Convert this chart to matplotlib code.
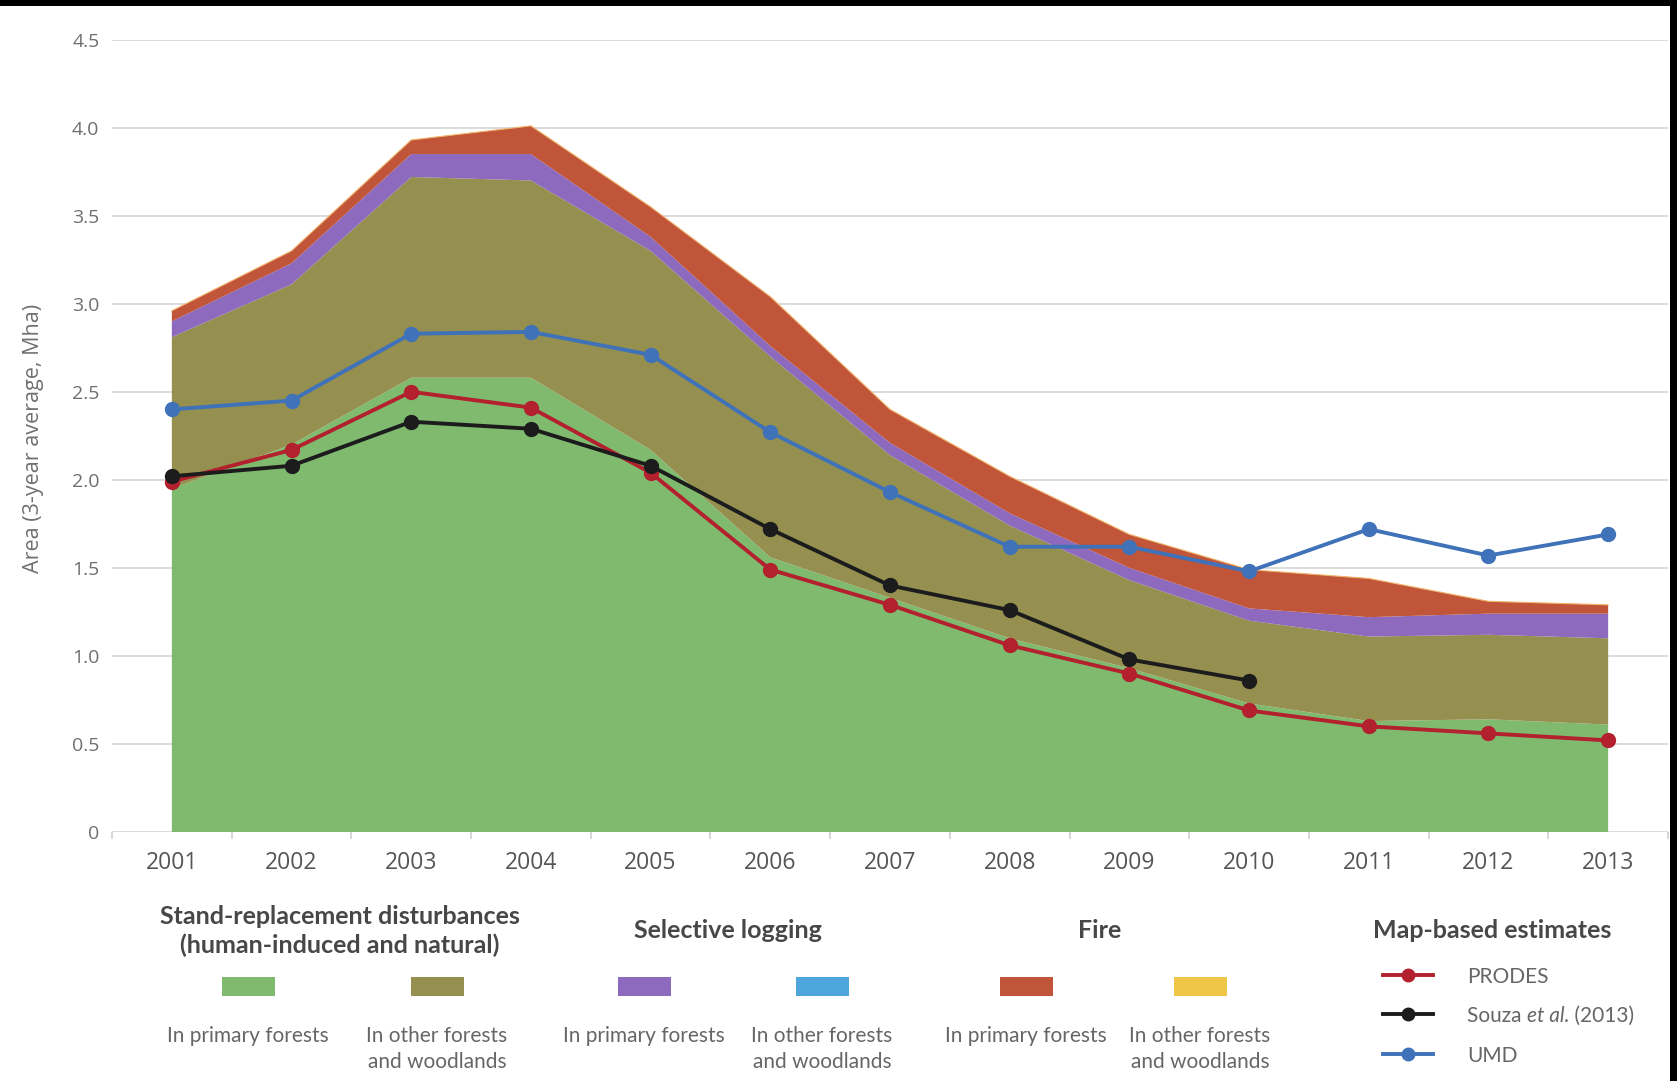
import matplotlib
matplotlib.use("Agg")
import matplotlib.pyplot as plt
from matplotlib import font_manager
from matplotlib.patches import Rectangle
from matplotlib.lines import Line2D

# ---------------------------------------------------------------- data
years = [2001, 2002, 2003, 2004, 2005, 2006, 2007, 2008, 2009, 2010, 2011, 2012, 2013]

# stacked disturbance components (Mha, 3-year average)
sr_primary = [1.95, 2.20, 2.58, 2.58, 2.17, 1.56, 1.33, 1.10, 0.93, 0.73, 0.63, 0.64, 0.61]
sr_other = [0.86, 0.91, 1.14, 1.12, 1.13, 1.14, 0.81, 0.64, 0.50, 0.47, 0.48, 0.48, 0.49]
sl_primary = [0.09, 0.12, 0.13, 0.15, 0.08, 0.06, 0.07, 0.07, 0.07, 0.07, 0.11, 0.12, 0.14]
sl_other = [0.0] * 13
fire_primary = [0.06, 0.07, 0.08, 0.16, 0.17, 0.28, 0.19, 0.21, 0.19, 0.22, 0.22, 0.07, 0.05]
fire_other = [0.0] * 13

# map-based estimates
prodes = [1.99, 2.17, 2.50, 2.41, 2.04, 1.49, 1.29, 1.06, 0.90, 0.69, 0.60, 0.56, 0.52]
souza_years = [2001, 2002, 2003, 2004, 2005, 2006, 2007, 2008, 2009, 2010]
souza = [2.02, 2.08, 2.33, 2.29, 2.08, 1.72, 1.40, 1.26, 0.98, 0.86]
umd = [2.40, 2.45, 2.83, 2.84, 2.71, 2.27, 1.93, 1.62, 1.62, 1.48, 1.72, 1.57, 1.69]

y_ticks = [0, 0.5, 1.0, 1.5, 2.0, 2.5, 3.0, 3.5, 4.0, 4.5]
y_tick_labels = ["0", "0.5", "1.0", "1.5", "2.0", "2.5", "3.0", "3.5", "4.0", "4.5"]
y_label = "Area (3-year average, Mha)"

group_titles = ["Stand-replacement disturbances\n(human-induced and natural)",
                "Selective logging", "Fire", "Map-based estimates"]
swatch_labels = ["In primary forests", "In other forests\nand woodlands",
                 "In primary forests", "In other forests\nand woodlands",
                 "In primary forests", "In other forests\nand woodlands"]

# ---------------------------------------------------------------- style
C_GREEN = "#7fba6f"
C_OLIVE = "#958f50"
C_PURPLE = "#8d6abd"
C_BLUE = "#4fa6dd"
C_RED = "#c0553a"
C_YELLOW = "#f0c648"
C_PRODES = "#b3202e"
C_SOUZA = "#1c1c1c"
C_UMD = "#3f72b8"

available = {f.name for f in font_manager.fontManager.ttflist}
NARROW = next((n for n in ["Liberation Sans Narrow", "Lato", "Open Sans"] if n in available), "DejaVu Sans")
TICKF = "Open Sans" if "Open Sans" in available else "DejaVu Sans"

W, H = 1677, 1081
fig = plt.figure(figsize=(W / 100, H / 100), dpi=100)
fig.patch.set_facecolor("white")


def fx(px):
    return px / W


def fy(py):
    return 1 - py / H


ax_left, ax_right, ax_top, ax_bottom = 112, 1668, 39.6, 832
ax = fig.add_axes([fx(ax_left), fy(ax_bottom), fx(ax_right - ax_left), (ax_bottom - ax_top) / H])

ax.stackplot(years, sr_primary, sr_other, sl_primary, sl_other, fire_primary, fire_other,
             colors=[C_GREEN, C_OLIVE, C_PURPLE, C_BLUE, C_RED, C_YELLOW],
             linewidth=0, zorder=2)

totals = [sum(v) for v in zip(sr_primary, sr_other, sl_primary, sl_other, fire_primary, fire_other)]
ax.plot(years, totals, color="#f2b36a", lw=0.8, zorder=2.5)

line_kw = dict(lw=2.8, marker="o", markersize=10, zorder=4)
ax.plot(years, prodes, color=C_PRODES, **line_kw)
ax.plot(souza_years, souza, color=C_SOUZA, **line_kw)
ax.plot(years, umd, color=C_UMD, **line_kw)

ax.set_xlim(2000.5, 2013.5)
ax.set_ylim(0, 4.5)
ax.set_yticks(y_ticks)
ax.set_yticklabels(y_tick_labels, fontfamily=TICKF, fontsize=14, color="#6f6f6f")
ax.set_xticks(years)
ax.set_xticklabels([str(y) for y in years], fontfamily=TICKF, fontsize=16.5, color="#555555")
ax.set_xticks([y + 0.5 for y in [2000] + years], minor=True)
ax.tick_params(axis="y", length=0, pad=9)
ax.tick_params(axis="x", which="major", length=0, pad=14)
ax.tick_params(axis="x", which="minor", length=5, color="#d0d0d0", width=1.2)
ax.yaxis.grid(True, color="#dcdcdc", lw=1.4, zorder=0)
ax.set_axisbelow(True)
for s in ax.spines.values():
    s.set_visible(False)

fig.text(fx(34), fy(438), y_label, rotation=90, ha="center", va="center",
         fontfamily=TICKF, fontsize=15.5, color="#707070")

# ---------------------------------------------------------------- legend block
head_kw = dict(ha="center", va="center", fontfamily=NARROW, fontweight="bold",
               fontsize=18, color="#474747", linespacing=1.25)
fig.text(fx(340), fy(931), group_titles[0], **head_kw)
fig.text(fx(728), fy(930), group_titles[1], **head_kw)
fig.text(fx(1100), fy(930), group_titles[2], **head_kw)
fig.text(fx(1492), fy(930), group_titles[3], **head_kw)

swatch_x = [248, 437, 644, 822, 1026, 1200]
swatch_colors = [C_GREEN, C_OLIVE, C_PURPLE, C_BLUE, C_RED, C_YELLOW]
sw_w, sw_h = 53, 19
for cx, col, lab in zip(swatch_x, swatch_colors, swatch_labels):
    fig.add_artist(Rectangle((fx(cx - sw_w / 2), fy(986 + sw_h / 2)), fx(sw_w), sw_h / H,
                             transform=fig.transFigure, facecolor=col, edgecolor="none"))
    fig.text(fx(cx), fy(1026), lab, ha="center", va="top", fontfamily=NARROW,
             fontsize=15, color="#666666", linespacing=1.35)

legend_rows = [(975, C_PRODES), (1014, C_SOUZA), (1054, C_UMD)]
for yy, col in legend_rows:
    fig.add_artist(Line2D([fx(1383), fx(1433)], [fy(yy), fy(yy)], transform=fig.transFigure,
                          color=col, lw=2.8))
    fig.add_artist(Line2D([fx(1408)], [fy(yy)], transform=fig.transFigure, color=col,
                          marker="o", markersize=9, lw=0))

lab_kw = dict(ha="left", va="center", fontfamily=NARROW, fontsize=15, color="#666666")
fig.text(fx(1467), fy(977), "PRODES", **lab_kw)
fig.text(fx(1467), fy(1056), "UMD", **lab_kw)

# "Souza et al. (2013)" with the Latin abbreviation in italics
renderer = fig.canvas.get_renderer()
x_cur = fx(1467)
for piece, style in [("Souza ", "normal"), ("et al.", "italic"), (" (2013)", "normal")]:
    t = fig.text(x_cur, fy(1016), piece, fontstyle=style, **lab_kw)
    bb = t.get_window_extent(renderer=renderer)
    x_cur += bb.width / W

# frame strips along the top and right edges
fig.add_artist(Rectangle((0, fy(6)), 1, 6 / H, transform=fig.transFigure,
                         facecolor="black", edgecolor="none"))
fig.add_artist(Rectangle((fx(W - 7), 0), fx(7), 1, transform=fig.transFigure,
                         facecolor="black", edgecolor="none"))

fig.savefig("out.png", dpi=100)
